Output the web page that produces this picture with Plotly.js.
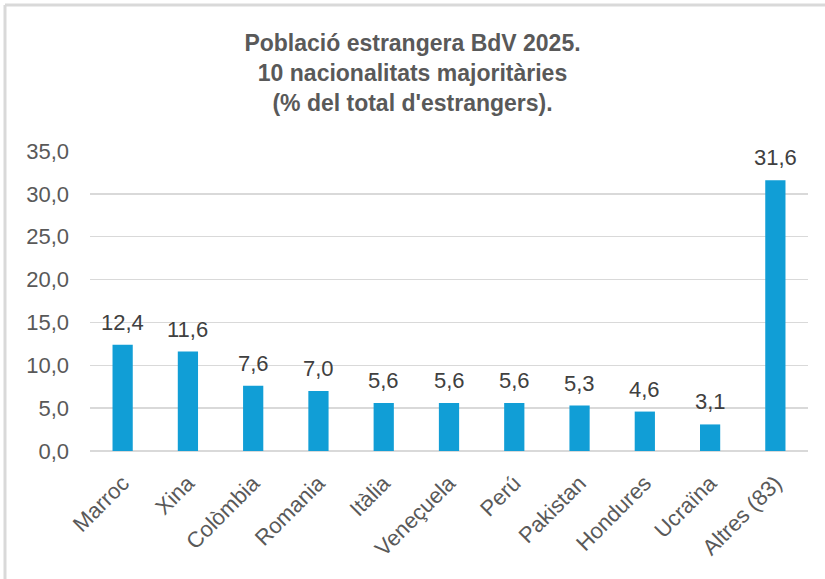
<!DOCTYPE html>
<html>
<head>
<meta charset="utf-8">
<script src="https://cdn.plot.ly/plotly-3.0.1.min.js"></script>
<style>
html,body{margin:0;padding:0;background:#fff;}
#chart{width:825px;height:579px;}
</style>
</head>
<body>
<div id="chart"></div>
<script>
const categories = ["Marroc","Xina","Colòmbia","Romania","Itàlia","Veneçuela","Perú","Pakistan","Hondures","Ucraïna","Altres (83)"];
const values = [12.4, 11.6, 7.6, 7.0, 5.6, 5.6, 5.6, 5.3, 4.6, 3.1, 31.6];
const yTicks = [0, 5, 10, 15, 20, 25, 30, 35];
const titleLines = ["Població estrangera BdV 2025.", "10 nacionalitats majoritàries", "(% del total d'estrangers)."];

const fmt = v => v.toFixed(1).replace(".", ",");
const textColor = "#595959";
const font = "Arial, 'Liberation Sans', sans-serif";

const trace = {
  type: "bar",
  x: categories,
  y: values,
  marker: {color: "#119ed6"},
  hoverinfo: "skip"
};

const labelAnnotations = categories.map((c, i) => ({
  x: c, y: values[i], xref: "x", yref: "y",
  text: fmt(values[i]),
  showarrow: false,
  yanchor: "bottom",
  yshift: 8,
  font: {family: font, size: 22, color: "#404040"}
}));

const layout = {
  width: 825,
  height: 579,
  margin: {l: 90, r: 17, t: 151, b: 128},
  paper_bgcolor: "#ffffff",
  plot_bgcolor: "#ffffff",
  showlegend: false,
  bargap: 0.69,
  font: {family: font, color: textColor},
  title: {
    text: "<b>" + titleLines.join("<br>") + "</b>",
    font: {family: font, size: 23, color: textColor},
    x: 0.5, xanchor: "center",
    yref: "container",
    y: 1 - 51 / 579, yanchor: "middle"
  },
  xaxis: {
    type: "category",
    tickangle: -45,
    tickfont: {family: font, size: 22, color: textColor},
    showgrid: false,
    zeroline: false,
    showline: false,
    ticks: "",
    ticklabelstandoff: 14
  },
  yaxis: {
    range: [0, 35],
    tickvals: yTicks,
    ticktext: yTicks.map(fmt),
    tickfont: {family: font, size: 22, color: textColor},
    showgrid: true,
    gridcolor: "#d9d9d9",
    gridwidth: 1.5,
    zeroline: true,
    zerolinecolor: "#d9d9d9",
    zerolinewidth: 1.5,
    showline: false,
    ticks: "",
    ticklabelstandoff: 20
  },
  annotations: labelAnnotations,
  shapes: [
    {type: "line", xref: "paper", yref: "paper", x0: -0.1184, x1: 1.03, y0: 1.4867, y1: 1.4867, line: {color: "#d9d9d9", width: 3}},
    {type: "line", xref: "paper", yref: "paper", x0: -0.1184, x1: -0.1184, y0: -0.43, y1: 1.4867, line: {color: "#d9d9d9", width: 3}}
  ]
};

Plotly.newPlot("chart", [trace], layout, {displayModeBar: false, staticPlot: true});
</script>
</body>
</html>
